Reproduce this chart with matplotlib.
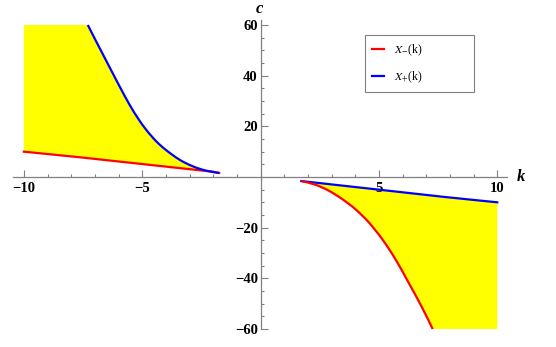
import matplotlib.pyplot as plt
import numpy as np
from matplotlib.path import Path
from matplotlib.patches import PathPatch
from matplotlib.lines import Line2D

plt.rcParams['font.family'] = ['Liberation Serif', 'DejaVu Serif']
plt.rcParams['mathtext.fontset'] = 'stix'

# k < 0 branch
k_minus_left = [-10.0, -7.65, -2.02, -1.75]
x_minus_left = [10.0, 7.8, 2.1, 1.6]
k_plus_left = [-7.30, -6.95, -6.60, -6.25, -5.89, -5.54, -5.19, -4.83,
               -4.41, -3.99, -3.42, -2.86, -2.30, -1.75]
x_plus_left = [60.0, 53.6, 47.3, 41.0, 34.6, 28.6, 23.3, 18.6,
               14.1, 10.6, 6.8, 4.2, 2.5, 1.6]

# k > 0 branch
k_minus_right = [1.72, 2.30, 2.86, 3.43, 3.99, 4.55, 5.12, 5.68, 6.24, 6.81, 7.27]
x_minus_right = [-1.6, -3.0, -5.3, -8.6, -12.6, -17.7, -24.3, -32.2, -41.5, -51.3, -60.0]
k_plus_right = [1.72, 7.79, 10.0]
x_plus_right = [-1.6, -7.9, -10.0]

c_top, c_bot = 60, -60
k_lo, k_hi = -10, 10

x_ticks = [-10, -5, 5, 10]
x_labels = ['\u221210', '\u22125', '5', '10']
y_ticks = [-60, -40, -20, 20, 40, 60]
y_labels = ['\u221260', '\u221240', '\u221220', '20', '40', '60']

red, blue, yellow, grey = '#ff0000', '#0000ff', '#ffff00', '#808080'


def smooth(xs, ys):
    # catmull-rom through the read points, as cubic bezier pieces
    p = np.column_stack([xs, ys])
    q = np.vstack([p[0], p, p[-1]])
    verts, codes = [p[0]], [Path.MOVETO]
    for i in range(1, len(q) - 2):
        verts += [q[i] + (q[i + 1] - q[i - 1]) / 6,
                  q[i + 1] - (q[i + 2] - q[i]) / 6,
                  q[i + 1]]
        codes += [Path.CURVE4] * 3
    return verts, codes


def straight(xs, ys):
    return list(np.column_stack([xs, ys])), [Path.MOVETO] + [Path.LINETO] * (len(xs) - 1)


def region(parts, corner):
    verts, codes = [], []
    for v, c in parts:
        verts += v
        codes += ([Path.LINETO] if codes else [Path.MOVETO]) + c[1:]
    verts += [corner, corner]
    codes += [Path.LINETO, Path.CLOSEPOLY]
    return Path(verts, codes)


fig = plt.figure(figsize=(5.56, 3.47), dpi=100)
ax = fig.add_axes([0, 0, 1, 1])
ax.set_xlim(-260.6 / 23.67, (556 - 260.6) / 23.67)
ax.set_ylim(-(347 - 177) / 2.533, 177 / 2.533)

# shaded regions between the two roots
left_fill = region([straight(k_minus_left, x_minus_left),
                    smooth(k_plus_left[::-1], x_plus_left[::-1])], (k_lo, c_top))
right_fill = region([straight(k_plus_right, x_plus_right),
                     straight([k_hi], [c_bot]),
                     smooth(k_minus_right[::-1], x_minus_right[::-1])], (k_minus_right[0], x_minus_right[0]))
for pth in [left_fill, right_fill]:
    ax.add_patch(PathPatch(pth, facecolor=yellow, lw=0, zorder=1))

ax.plot(k_minus_left, x_minus_left, color=red, lw=1.6, zorder=3)
ax.plot(k_plus_right, x_plus_right, color=blue, lw=1.6, zorder=3)
for (xs, ys), col in [((k_plus_left, x_plus_left), blue),
                      ((k_minus_right, x_minus_right), red)]:
    v, c = smooth(xs, ys)
    ax.add_patch(PathPatch(Path(v, c), fill=False, edgecolor=col, lw=1.6,
                           capstyle='butt', zorder=3))

# mathematica-like axes through the origin
for s in ['top', 'right']:
    ax.spines[s].set_visible(False)
ax.spines['left'].set_position(('data', 0))
ax.spines['bottom'].set_position(('data', 0))
ax.spines['bottom'].set_bounds(-10.44, 10.4)
ax.spines['left'].set_bounds(-60, 62)
for s in ['left', 'bottom']:
    ax.spines[s].set_color(grey)
    ax.spines[s].set_linewidth(0.9)

ax.set_xticks(x_ticks)
ax.set_xticklabels(x_labels, fontweight='bold', fontsize=10.5)
ax.set_xticks(np.arange(-10, 11, 1), minor=True)
ax.set_yticks(y_ticks)
ax.set_yticklabels(y_labels, fontweight='bold', fontsize=10.5)
ax.set_yticks(np.arange(-60, 61, 5), minor=True)
ax.tick_params(which='both', direction='in', color=grey, width=0.8)
ax.tick_params(which='major', length=5)
ax.tick_params(which='minor', length=2.5)
ax.tick_params(axis='x', pad=3.5)
ax.tick_params(axis='y', pad=2)

ax.text(11.02, 0, 'k', fontsize=12, fontweight='bold', style='italic',
        ha='center', va='center')
ax.text(-0.07, 66.5, 'c', fontsize=12, fontweight='bold', style='italic',
        ha='center', va='center')

handles = [Line2D([], [], color=red, lw=1.6), Line2D([], [], color=blue, lw=1.6)]
leg = ax.legend(handles, [r'$X_{-}$(k)', r'$X_{+}$(k)'], loc='upper left', mode='expand',
                bbox_to_anchor=(364.7 / 556, 1 - 87.3 / 347, 109.3 / 556, 52 / 347),
                borderaxespad=0, fontsize=8.5, handlelength=1.0, handletextpad=0.9,
                labelspacing=1.0, borderpad=0.6, fancybox=False, framealpha=1)
leg.get_frame().set_edgecolor(grey)
leg.get_frame().set_linewidth(0.8)

fig.savefig('out.png', dpi=100)
